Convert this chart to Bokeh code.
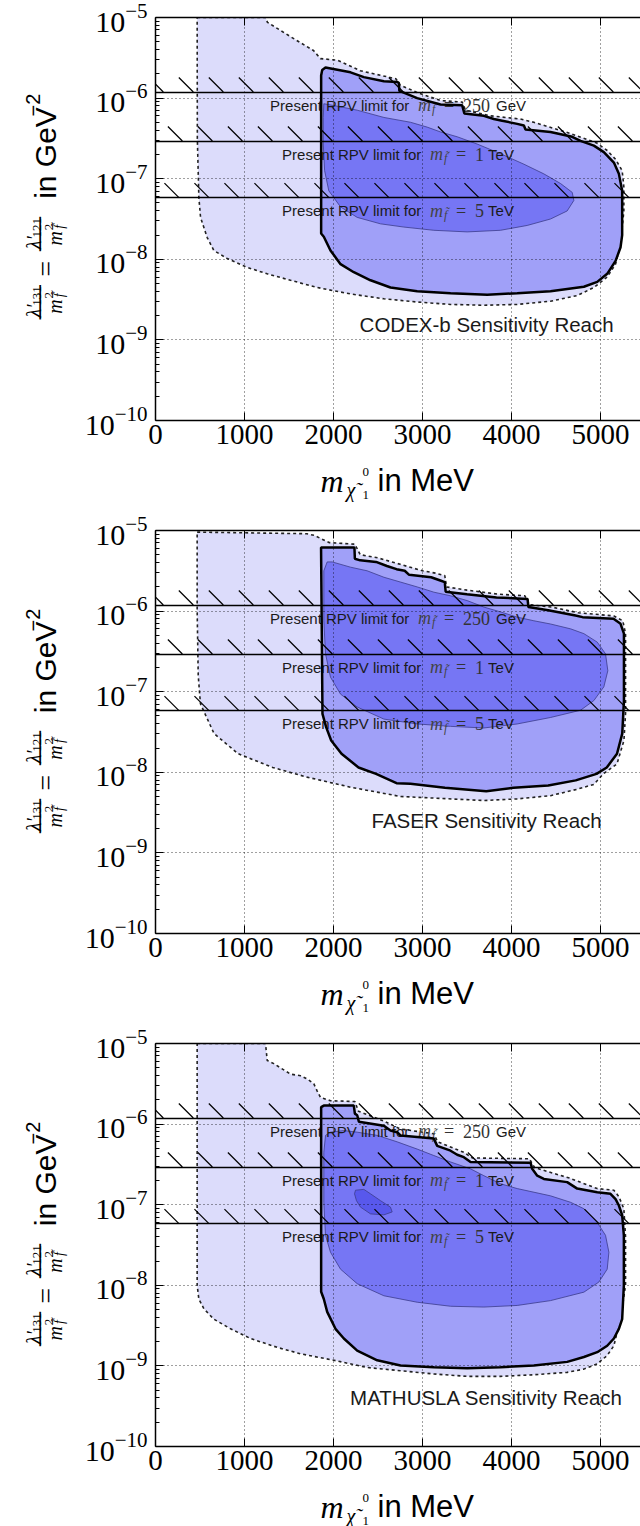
import numpy as np
from bokeh.plotting import figure
from bokeh.layouts import column, row
from bokeh.models import Range1d, FixedTicker, LinearAxis, Label
from bokeh.core.properties import value
from bokeh.embed import file_html
from bokeh.resources import INLINE

# ---------------- data ----------------
x_ticks = [0, 1000, 2000, 3000, 4000, 5000]
y_tick_exponents = [-10, -9, -8, -7, -6, -5]
x_limits = [0, 5449]
y_limits = [1e-10, 1e-5]

limit_values = [1.19e-6, 2.93e-7, 5.82e-8]
limit_numbers = ["250", "1", "5"]
limit_units = ["GeV", "TeV", "TeV"]

reach_names = ["CODEX-b Sensitivity Reach", "FASER Sensitivity Reach", "MATHUSLA Sensitivity Reach"]
reach_label_x = [3720, 3720, 3720]
reach_label_y = [1.55e-9, 2.5e-9, 4.0e-10]

# CODEX-b
codex_light_mev = [468, 1236, 1258, 1520, 1775, 1854, 2045, 2300, 2700, 2750, 2940, 3200, 3446, 3483, 3764, 4100, 4250,
                   4663, 4963, 5075, 5169, 5243, 5262, 5262, 5225, 5169, 5075, 4925, 4738, 4438, 4064, 3689, 3315, 2940,
                   2566, 2191, 1816, 1517, 1255, 1030, 805, 655, 581, 506, 487, 470]
codex_light_log10 = [-5.0, -5.0, -5.06, -5.24, -5.41, -5.51, -5.53, -5.66, -5.76, -5.84, -5.93, -6.03, -6.05, -6.15, -6.22,
                     -6.26, -6.30, -6.44, -6.56, -6.65, -6.76, -6.90, -7.10, -7.40, -7.81, -8.06, -8.22, -8.35, -8.45, -8.52,
                     -8.56, -8.57, -8.56, -8.53, -8.49, -8.43, -8.35, -8.26, -8.18, -8.10, -7.99, -7.89, -7.73, -7.48,
                     -7.23, -6.50]
codex_mid_mev = [1861, 1873, 1910, 2191, 2341, 2566, 2715, 2734, 2740, 2940, 3202, 3446, 3470, 3689, 3801, 3895, 4064, 4139,
                 4157, 4438, 4682, 4775, 4925, 5037, 5150, 5206, 5243, 5243, 5225, 5169, 5075, 4963, 4813, 4438, 4064, 3727,
                 3315, 2940, 2640, 2416, 2228, 2079, 1966, 1891, 1861]
codex_mid_log10 = [-5.72, -5.65, -5.62, -5.68, -5.74, -5.79, -5.80, -5.81, -5.91, -6.00, -6.08, -6.09, -6.19, -6.22, -6.26,
                   -6.28, -6.32, -6.34, -6.39, -6.42, -6.48, -6.53, -6.59, -6.67, -6.80, -6.94, -7.15, -7.70, -7.85, -8.02,
                   -8.18, -8.28, -8.34, -8.395, -8.42, -8.44, -8.42, -8.395, -8.35, -8.26, -8.16, -8.06, -7.89, -7.72, -7.68]
codex_in_mev = [1891, 2041, 2266, 2566, 2865, 3052, 3202, 3390, 3614, 3876, 4139, 4363, 4551, 4682, 4700, 4625, 4438, 4176,
                3876, 3502, 3127, 2790, 2528, 2266, 2079, 1947, 1900, 1885, 1885]
codex_in_log10 = [-6.07, -6.10, -6.15, -6.24, -6.30, -6.36, -6.42, -6.48, -6.57, -6.69, -6.82, -6.94, -7.06, -7.17, -7.27,
                  -7.40, -7.50, -7.58, -7.64, -7.66, -7.64, -7.60, -7.56, -7.48, -7.35, -7.15, -6.90, -6.57, -6.24]

# FASER
faser_light_mev = [468, 1700, 1781, 1858, 1950, 2240, 2300, 2500, 2750, 3000, 3150, 3250, 3270, 3500, 3850, 4150, 4200, 4450,
                   4750, 5150, 5250, 5281, 5281, 5263, 5185, 5031, 4925, 4738, 4438, 4064, 3689, 3127, 2753, 2191, 1703,
                   1317, 929, 658, 505, 480, 468]
faser_light_log10 = [-5.02, -5.04, -5.06, -5.10, -5.15, -5.17, -5.30, -5.34, -5.42, -5.50, -5.53, -5.56, -5.70, -5.74,
                     -5.79, -5.81, -5.92, -5.95, -6.02, -6.06, -6.12, -6.28, -7.27, -7.605, -7.895, -8.02, -8.15, -8.21,
                     -8.29, -8.33, -8.35, -8.32, -8.30, -8.185, -8.06, -7.94, -7.77, -7.52, -7.15, -6.80, -6.0]
faser_mid_mev = [1860, 2235, 2240, 2300, 2478, 2600, 2708, 2800, 2850, 3097, 3200, 3250, 3260, 3500, 3831, 4180, 4190, 4412,
                 4719, 4798, 5146, 5225, 5263, 5263, 5244, 5185, 5070, 4955, 4721, 4412, 4022, 3716, 3252, 2865, 2708, 2478,
                 2281, 2090, 1974, 1917, 1876]
faser_mid_log10 = [-5.21, -5.21, -5.35, -5.37, -5.39, -5.44, -5.48, -5.50, -5.55, -5.58, -5.62, -5.64, -5.76, -5.79, -5.83,
                   -5.85, -5.95, -5.99, -6.055, -6.075, -6.096, -6.158, -6.28, -7.11, -7.52, -7.77, -7.94, -8.02, -8.10,
                   -8.164, -8.193, -8.234, -8.193, -8.143, -8.135, -8.02, -7.94, -7.77, -7.605, -7.44, -7.275]
faser_in_mev = [1929, 1985, 2191, 2378, 2566, 2753, 2940, 3127, 3315, 3502, 3689, 3876, 4064, 4251, 4438, 4663, 4813, 4963,
                5056, 5082, 5037, 4925, 4775, 4438, 4064, 3689, 3315, 2940, 2566, 2266, 2079, 1966, 1910, 1891, 1891]
faser_in_log10 = [-5.39, -5.39, -5.455, -5.50, -5.58, -5.64, -5.70, -5.765, -5.81, -5.87, -5.95, -6.01, -6.075, -6.12,
                  -6.16, -6.22, -6.28, -6.385, -6.53, -6.74, -6.94, -7.11, -7.23, -7.32, -7.40, -7.45, -7.43, -7.40, -7.34,
                  -7.19, -7.03, -6.82, -6.53, -6.12, -5.50]

# MATHUSLA
mathusla_light_mev = [468, 1236, 1255, 1329, 1517, 1629, 1704, 1779, 1817, 1854, 1966, 2240, 2280, 2560, 2750, 3127, 3170,
                      3464, 3560, 4200, 4260, 4650, 4963, 5150, 5206, 5262, 5281, 5281, 5225, 5187, 5150, 5075, 4963, 4813,
                      4625, 4251, 3876, 3502, 3127, 2753, 2378, 2004, 1629, 1367, 1067, 843, 655, 543, 487, 468]
mathusla_light_log10 = [-5.0, -5.0, -5.21, -5.25, -5.38, -5.40, -5.44, -5.50, -5.59, -5.67, -5.71, -5.72, -5.84, -5.96,
                        -6.06, -6.12, -6.22, -6.35, -6.42, -6.43, -6.54, -6.67, -6.80, -6.82, -6.90, -7.05, -7.40, -8.0,
                        -8.416, -8.58, -8.75, -8.87, -8.975, -9.04, -9.08, -9.11, -9.13, -9.13, -9.10, -9.06, -9.02, -8.93,
                        -8.85, -8.77, -8.66, -8.54, -8.42, -8.29, -8.17, -8.0]
mathusla_mid_mev = [1861, 1891, 2228, 2240, 2266, 2285, 2566, 2640, 2715, 2753, 2940, 3127, 3165, 3315, 3390, 3464, 3540,
                    4214, 4232, 4289, 4363, 4625, 4738, 4963, 5112, 5169, 5206, 5243, 5262, 5262, 5243, 5206, 5150, 5075,
                    4963, 4813, 4625, 4251, 3876, 3502, 3127, 2753, 2491, 2266, 2116, 2022, 1929, 1891, 1861]
mathusla_mid_log10 = [-5.79, -5.77, -5.77, -5.87, -5.89, -5.97, -6.02, -6.08, -6.10, -6.14, -6.16, -6.18, -6.27, -6.33,
                      -6.38, -6.41, -6.47, -6.48, -6.555, -6.64, -6.68, -6.72, -6.80, -6.845, -6.865, -6.93, -7.01, -7.13,
                      -7.38, -8.0, -8.42, -8.54, -8.66, -8.75, -8.83, -8.89, -8.95, -8.995, -9.016, -9.03, -9.016, -8.995,
                      -8.93, -8.81, -8.66, -8.54, -8.33, -8.17, -8.08]
mathusla_in_mev = [1910, 1966, 2116, 2266, 2491, 2715, 2940, 3127, 3315, 3539, 3689, 3876, 4064, 4438, 4663, 4813, 4963,
                   5056, 5094, 5075, 4981, 4813, 4438, 4064, 3689, 3315, 2940, 2566, 2266, 2079, 1966, 1910, 1891, 1891]
mathusla_in_log10 = [-6.14, -6.10, -6.08, -6.10, -6.14, -6.22, -6.31, -6.39, -6.47, -6.555, -6.64, -6.74, -6.80, -6.89,
                     -6.97, -7.05, -7.22, -7.38, -7.59, -7.80, -7.96, -8.085, -8.19, -8.25, -8.27, -8.26, -8.21, -8.13,
                     -7.98, -7.80, -7.59, -7.38, -6.97, -6.35]
mathusla_core_mev = [2247, 2341, 2416, 2528, 2640, 2659, 2566, 2416, 2303, 2258, 2236]
mathusla_core_log10 = [-6.82, -6.81, -6.865, -6.95, -7.03, -7.09, -7.126, -7.114, -7.03, -6.95, -6.865]

# ---------------- style ----------------
SANS = "Liberation Sans"
SERIF = "Liberation Serif"
C_LIGHT = "#dcdcfb"
C_MID = "#a0a0f8"
C_IN = "#7676f4"
C_CORE = "#5858ec"
FRAME_W = 485
FRAME_H = 403
YLAB_W = 78
MAIN_LEFT = 155 - YLAB_W
BOTTOM = 40
PX_PER_DEC = FRAME_H / 5.0
PX_PER_MEV = FRAME_W / x_limits[1]


def ys(logs):
    return [10.0 ** v for v in logs]


def hatch(p, v):
    ypx = (np.log10(y_limits[1]) - np.log10(v)) * PX_PER_DEC
    phase = (ypx + 23.3) % 30
    xb = (phase + 30 * np.arange(-1, 18)) / PX_PER_MEV
    w = 14.5 / PX_PER_MEV
    top = v * 10 ** (14.5 / PX_PER_DEC)
    n = len(xb)
    p.segment(x0=list(xb - w), y0=[top] * n, x1=list(xb), y1=[v] * n, line_color="black", line_width=1.3)


def limit_text(p, v, num, unit):
    xc = 2720
    left = -127.5 if unit == "GeV" else -115.5
    yb = v / 10 ** (13.0 / PX_PER_DEC)
    ysub = v / 10 ** (17.0 / PX_PER_DEC)
    unit_off = 226 if unit == "GeV" else 206
    parts = [
        ("Present RPV limit for", SANS, "15px", "normal", 0, yb, "#1a1a1a"),
        ("m", SERIF, "18px", "italic", 148, yb, "#444444"),
        ("f\u0303", SERIF, "12px", "italic", 162, ysub, "#444444"),
        ("=", SERIF, "18px", "normal", 174, yb, "#333333"),
        (num, SERIF, "18px", "normal", 193, yb, "#333333"),
        (unit, SANS, "15px", "normal", unit_off, yb, "#1a1a1a"),
    ]
    for t, f, s, st, off, yy, col in parts:
        p.text(x=[xc], y=[yy], text=[t], x_offset=left + off, text_font=value(f), text_font_size=s,
               text_font_style=st, text_align="left", text_baseline="alphabetic", text_color=col)


def L(p, text, x, y, size, font, style="normal", align="center", baseline="alphabetic", angle=90):
    p.add_layout(Label(x=x, y=y, text=text, text_font=font,
                       text_font_size=f"{size}px", text_font_style=style, text_align=align,
                       text_baseline=baseline, angle=angle, angle_units="deg", text_color="black"))


def blank_fig(w, h):
    p = figure(width=w, height=h, x_range=Range1d(0, w), y_range=Range1d(0, h), title=None,
               x_axis_type=None, y_axis_type=None, output_backend="svg", toolbar_location=None,
               min_border_left=0, min_border_right=0, min_border_top=0, min_border_bottom=0,
               outline_line_color=None, background_fill_color="white", border_fill_color="white")
    return p


def ylabel_fig(h):
    p = blank_fig(YLAB_W, h)

    # x = page x (baseline position), ry = px above the frame bottom
    def Y(text, x, ry, size, font, style="normal", align="center", baseline="alphabetic"):
        L(p, text, x, ry + BOTTOM, size, font, style, align, baseline)

    for sub, cy in (("131", 95), ("121", 173)):
        Y("\u03bb\u2032", 33, cy - 10, 20, SERIF, "italic")
        Y(sub, 36, cy + 7, 13, SERIF)
        Y("\u2014", 36, cy, 34, SERIF, baseline="middle")
        Y("m", 54, cy - 5, 20, SERIF, "italic")
        Y("2", 48, cy + 8, 13, SERIF)
        Y("f\u0303", 59, cy + 8, 14, SERIF, "italic")
    Y("=", 45, 133, 28, SERIF)
    Y("in GeV", 45, 213, 30, SANS, align="left")
    Y("\u22122", 32, 307, 20, SANS, align="left")
    return p


def xlabel_fig(h):
    p = blank_fig(640, h)

    # d = px below the frame bottom
    def X(text, x, d, size, font, style="normal"):
        L(p, text, x, h - (d - BOTTOM), size, font, style, "left", "alphabetic", angle=0)

    X("m", 320, 60, 32, SERIF, "italic")
    X("\u03c7\u0303", 346, 69, 20, SERIF, "italic")
    X("0", 362, 51, 13, SERIF)
    X("1", 362, 74, 13, SERIF)
    X("in MeV", 377, 60, 31, SANS)
    return p


def make_panel(idx, light, mid, inner, core, border_top):
    h = border_top + FRAME_H + BOTTOM
    p = figure(width=640 - YLAB_W, height=h, title=None,
               x_range=Range1d(*x_limits), y_range=Range1d(*y_limits), y_axis_type="log",
               output_backend="svg", toolbar_location=None,
               min_border_left=MAIN_LEFT, min_border_right=0, min_border_top=border_top, min_border_bottom=BOTTOM,
               outline_line_color=None, background_fill_color="white", border_fill_color="white")

    # regions
    p.patch(light[0], ys(light[1]), fill_color=C_LIGHT, line_color="#222222", line_width=1.6, line_dash="3 3")
    p.patch(mid[0], ys(mid[1]), fill_color=C_MID, line_color=None)
    p.patch(inner[0], ys(inner[1]), fill_color=C_IN, line_color="#3c3c8c", line_width=1, line_alpha=0.8)
    if core is not None:
        p.patch(core[0], ys(core[1]), fill_color=C_CORE, line_color="#3c3c8c", line_width=1, line_alpha=0.8)

    # present limits
    for v in limit_values:
        hatch(p, v)
    p.hspan(y=limit_values, line_color="black", line_width=1.5)
    for v, n_, u in zip(limit_values, limit_numbers, limit_units):
        limit_text(p, v, n_, u)

    p.patch(mid[0], ys(mid[1]), fill_color=None, line_color="black", line_width=2.5)

    p.text(x=[reach_label_x[idx]], y=[reach_label_y[idx]], text=[reach_names[idx]], text_font=value(SANS),
           text_font_size="20.5px", text_align="center", text_baseline="alphabetic", text_color="#1a1a1a")

    # axes
    p.xaxis.ticker = FixedTicker(ticks=x_ticks, minor_ticks=[])
    p.yaxis.ticker = FixedTicker(ticks=[10.0 ** e for e in y_tick_exponents],
                                 minor_ticks=[m * 10.0 ** e for e in y_tick_exponents[:-1] for m in range(2, 10)])
    for ax in (p.xaxis, p.yaxis):
        ax.axis_line_width = 1.5
        ax.axis_line_color = "black"
        ax.major_tick_in = 8
        ax.major_tick_out = 0
        ax.minor_tick_in = 4
        ax.minor_tick_out = 0
        ax.major_tick_line_color = "black"
        ax.minor_tick_line_color = "black"
        ax.major_label_text_font = SERIF
        ax.major_label_text_color = "black"
    p.xaxis.major_label_text_font_size = "29px"
    p.yaxis.major_label_text_font_size = "30px"
    p.xaxis.major_label_standoff = 4
    p.yaxis.major_label_standoff = 8

    top = LinearAxis(ticker=FixedTicker(ticks=x_ticks, minor_ticks=[]), axis_line_width=1.5,
                     major_tick_in=8, major_tick_out=0, minor_tick_out=0, major_label_text_font_size="1px",
                     major_label_text_color=None, major_label_standoff=0)
    p.add_layout(top, "above")

    p.grid.grid_line_color = "black"
    p.grid.grid_line_alpha = 0.75
    p.grid.grid_line_dash = "1 3"
    p.grid.grid_line_width = 1
    p.grid.level = "annotation"
    return p, h


panels = [
    (0, (codex_light_mev, codex_light_log10), (codex_mid_mev, codex_mid_log10), (codex_in_mev, codex_in_log10), None, 17, 50),
    (1, (faser_light_mev, faser_light_log10), (faser_mid_mev, faser_mid_log10), (faser_in_mev, faser_in_log10), None, 20, 50),
    (2, (mathusla_light_mev, mathusla_light_log10), (mathusla_mid_mev, mathusla_mid_log10),
     (mathusla_in_mev, mathusla_in_log10), (mathusla_core_mev, mathusla_core_log10), 20, 40),
]

blocks = []
for idx, light, mid, inner, core, btop, xh in panels:
    main, h = make_panel(idx, light, mid, inner, core, btop)
    blocks.append(row(ylabel_fig(h), main, spacing=0))
    blocks.append(xlabel_fig(xh))

layout = column(*blocks, spacing=0)
open("out.html", "w").write(file_html(layout, INLINE))
